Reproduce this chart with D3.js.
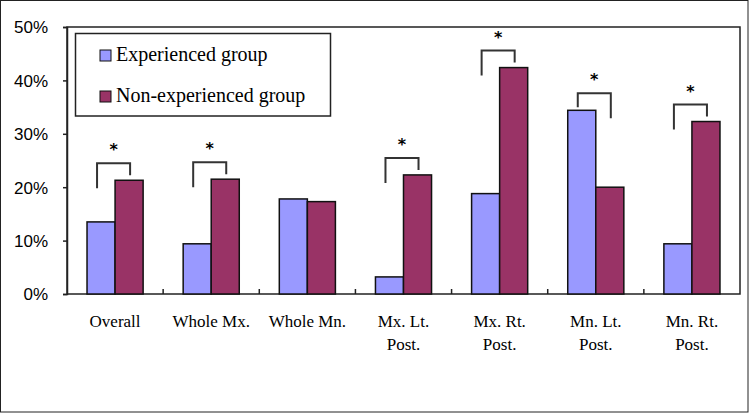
<!DOCTYPE html>
<html>
<head>
<meta charset="utf-8">
<script src="https://cdn.jsdelivr.net/npm/d3@7"></script>
<style>
  html, body { margin: 0; padding: 0; background: #fff; }
  svg { display: block; }
</style>
</head>
<body>
<svg id="chart" width="750" height="415"></svg>
<script>
const categories = ["Overall", "Whole Mx.", "Whole Mn.", "Mx. Lt.|Post.", "Mx. Rt.|Post.", "Mn. Lt.|Post.", "Mn. Rt.|Post."];
const seriesNames = ["Experienced group", "Non-experienced group"];
const experienced = [0.135, 0.094, 0.178, 0.032, 0.188, 0.344, 0.094];
const nonExperienced = [0.213, 0.215, 0.173, 0.223, 0.424, 0.200, 0.323];
const significant = [true, true, false, true, true, true, true];
const yTicks = [0, 0.1, 0.2, 0.3, 0.4, 0.5];
const colors = ["#9999FF", "#993366"];

const svg = d3.select("#chart");
const plot = { left: 67, right: 740, top: 27, bottom: 294 };

// outer border
svg.append("rect").attr("x", 0.5).attr("y", 0.5).attr("width", 747.5).attr("height", 411.5)
  .attr("fill", "#fff").attr("stroke", "#222").attr("stroke-width", 1);

const x0 = d3.scaleBand().domain(categories).range([plot.left, plot.right]).padding(0);
const x1 = d3.scaleBand().domain(seriesNames).range([0, x0.bandwidth()]).paddingInner(0).paddingOuter(0.714);
const y = d3.scaleLinear().domain([0, 0.5]).range([plot.bottom, plot.top]);

// plot frame
svg.append("rect").attr("x", plot.left).attr("y", plot.top)
  .attr("width", plot.right - plot.left).attr("height", plot.bottom - plot.top)
  .attr("fill", "none").attr("stroke", "#222").attr("stroke-width", 1.5);

// y axis
const yAxis = d3.axisLeft(y).tickValues(yTicks).tickFormat(d3.format(".0%")).tickSize(4).tickPadding(15);
const gy = svg.append("g").attr("transform", `translate(${plot.left},0)`).call(yAxis);
gy.select(".domain").attr("stroke", "#222").attr("stroke-width", 1.5);
gy.selectAll(".tick line").attr("stroke", "#222").attr("stroke-width", 1.5);
gy.selectAll(".tick text").attr("font-family", "'Liberation Sans', Arial, sans-serif")
  .attr("font-size", 17).attr("fill", "#000").attr("dy", "0.35em");

// x axis (ticks between categories, pointing up)
const boundaries = categories.slice(1).map(c => x0(c));
svg.append("g").selectAll("line").data(boundaries).join("line")
  .attr("x1", d => d).attr("x2", d => d)
  .attr("y1", plot.bottom).attr("y2", plot.bottom - 5)
  .attr("stroke", "#222").attr("stroke-width", 1.5);

// category labels
const labels = svg.append("g");
categories.forEach(c => {
  const lines = c.split("|");
  const t = labels.append("text")
    .attr("x", x0(c) + x0.bandwidth() / 2)
    .attr("y", 327)
    .attr("text-anchor", "middle")
    .attr("font-family", "'Liberation Serif', 'Times New Roman', serif")
    .attr("font-size", 17).attr("fill", "#000");
  lines.forEach((l, i) => {
    t.append("tspan").attr("x", x0(c) + x0.bandwidth() / 2).attr("dy", i === 0 ? 0 : 23).text(l);
  });
});

// bars
const data = categories.map((c, i) => ({ c, vals: [experienced[i], nonExperienced[i]], sig: significant[i] }));
const groups = svg.append("g").selectAll("g").data(data).join("g")
  .attr("transform", d => `translate(${x0(d.c)},0)`);
groups.selectAll("rect").data(d => d.vals.map((v, j) => ({ v, s: seriesNames[j], j })))
  .join("rect")
  .attr("x", d => x1(d.s))
  .attr("y", d => y(d.v))
  .attr("width", x1.bandwidth())
  .attr("height", d => y(0) - y(d.v))
  .attr("fill", d => colors[d.j])
  .attr("stroke", "#111").attr("stroke-width", 1.5);

// significance brackets
const br = svg.append("g");
data.filter(d => d.sig).forEach(d => {
  const xl = x0(d.c) + x1(seriesNames[0]) + x1.bandwidth() / 2 - 4;
  const xr = x0(d.c) + x1(seriesNames[1]) + x1.bandwidth() / 2 + 1;
  const maxV = Math.max(d.vals[0], d.vals[1]);
  const top = y(maxV) - 17;
  const tallLeft = d.vals[0] >= d.vals[1];
  const lBottom = tallLeft ? y(maxV) - 3 : top + 25;
  const rBottom = tallLeft ? top + 25 : y(maxV) - 5;
  br.append("path")
    .attr("d", `M${xl},${lBottom} L${xl},${top} L${xr},${top} L${xr},${rBottom}`)
    .attr("fill", "none").attr("stroke", "#333").attr("stroke-width", 2);
  br.append("text")
    .attr("x", (xl + xr) / 2).attr("y", top - 8)
    .attr("text-anchor", "middle")
    .attr("font-family", "'DejaVu Sans', sans-serif")
    .attr("font-weight", "bold")
    .attr("font-size", 16).attr("fill", "#000").text("*");
});

// legend
const lg = svg.append("g");
lg.append("rect").attr("x", 75.5).attr("y", 33.5).attr("width", 255).attr("height", 82.5)
  .attr("fill", "#fff").attr("stroke", "#222").attr("stroke-width", 1.5);
seriesNames.forEach((s, i) => {
  const yy = 61 + i * 41;
  lg.append("rect").attr("x", 100).attr("y", yy - 11).attr("width", 11).attr("height", 11)
    .attr("fill", colors[i]).attr("stroke", "#111").attr("stroke-width", 1);
  lg.append("text").attr("x", 116).attr("y", yy)
    .attr("font-family", "'Liberation Serif', 'Times New Roman', serif")
    .attr("font-size", 20).attr("fill", "#000").text(s);
});
</script>
</body>
</html>
